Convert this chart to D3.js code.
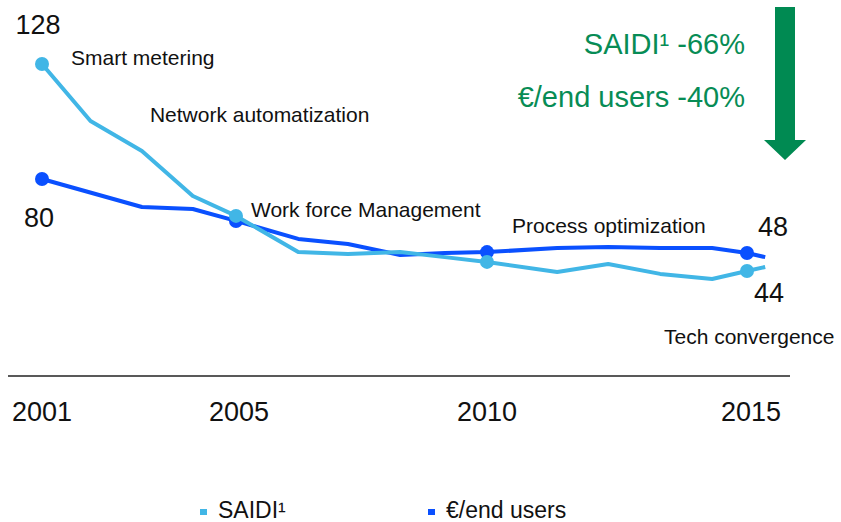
<!DOCTYPE html>
<html>
<head>
<meta charset="utf-8">
<script src="https://cdn.jsdelivr.net/npm/d3@7"></script>
<style>
  body { margin: 0; background: #fff; }
  text { font-family: "Liberation Sans", Arial, sans-serif; }
</style>
</head>
<body>
<script>
// values
var saidiTimes = [2001, 2002, 2003.06, 2004.11, 2005, 2006.24, 2007.23, 2008.27, 2009.16, 2010, 2011.35, 2012.33, 2013.33, 2014.33, 2015, 2015.35];
var saidiValues = [128, 104.2, 91.7, 72.9, 64.6, 49.5, 48.7, 49.5, 47.4, 45.4, 41.2, 44.5, 40.4, 38.3, 41.6, 43.3];

var euroTimes = [2001, 2003.06, 2004.11, 2005, 2006.24, 2007.23, 2008.27, 2009.16, 2010, 2011.35, 2012.33, 2013.33, 2014.33, 2015, 2015.35];
var euroValues = [80, 68.3, 67.5, 62.5, 55.0, 52.9, 48.3, 49.1, 49.5, 51.2, 51.6, 51.2, 51.2, 49.1, 47.4];

var markerYears = [2001, 2005, 2010, 2015];
var tickYears = [2001, 2005, 2010, 2015];

var valueLabels = [
  {text: "128", x: 2001, v: 128, dx: -4, dy: -30},
  {text: "80", x: 2001, v: 80, dx: -3, dy: 48},
  {text: "48", x: 2015, v: 49.1, dx: 26, dy: -17},
  {text: "44", x: 2015, v: 41.6, dx: 22, dy: 31}
];

var milestones = [
  {text: "Smart metering", x: 2001, v: 128, dx: 29, dy: 1},
  {text: "Network automatization", x: 2003.06, v: 104.2, dx: 8, dy: 1},
  {text: "Work force Management", x: 2005, v: 64.6, dx: 15, dy: 1},
  {text: "Process optimization", x: 2010, v: 49.5, dx: 25, dy: -19},
  {text: "Tech convergence", x: 2015, v: 41.6, dx: -83, dy: 73}
];

var saidiColor = "#41b6e6";
var euroColor = "#0a50ff";
var green = "#078c55";

var width = 841, height = 522;

var svg = d3.select("body").append("svg")
    .attr("width", width)
    .attr("height", height);

var x = d3.scaleLinear()
    .domain([2001, 2005, 2010, 2015])
    .range([42, 236, 487, 747]);

var y = d3.scaleLinear()
    .domain([0, 128])
    .range([370.7, 64]);

var line = d3.line()
    .x(function(d) { return x(d[0]); })
    .y(function(d) { return y(d[1]); });

// baseline
svg.append("line")
    .attr("x1", 8).attr("x2", 790)
    .attr("y1", 376).attr("y2", 376)
    .attr("stroke", "#222")
    .attr("stroke-width", 1.5);

// year labels
svg.selectAll(".tick")
    .data(tickYears)
  .enter().append("text")
    .attr("class", "tick")
    .attr("x", function(d, i) { return x(d) + [0, 3, 0, 4][i]; })
    .attr("y", 421)
    .attr("text-anchor", "middle")
    .attr("font-size", 27)
    .attr("fill", "#111")
    .text(function(d) { return d; });

function drawSeries(times, values, color) {
  var pts = d3.zip(times, values);
  svg.append("path")
      .datum(pts)
      .attr("fill", "none")
      .attr("stroke", color)
      .attr("stroke-width", 4)
      .attr("stroke-linejoin", "round")
      .attr("d", line);

  svg.selectAll(null)
      .data(pts.filter(function(d) { return markerYears.indexOf(d[0]) >= 0; }))
    .enter().append("circle")
      .attr("cx", function(d) { return x(d[0]); })
      .attr("cy", function(d) { return y(d[1]); })
      .attr("r", 7)
      .attr("fill", color);
}

drawSeries(euroTimes, euroValues, euroColor);
drawSeries(saidiTimes, saidiValues, saidiColor);

// value labels
svg.selectAll(".vlabel")
    .data(valueLabels)
  .enter().append("text")
    .attr("class", "vlabel")
    .attr("x", function(d) { return x(d.x) + d.dx; })
    .attr("y", function(d) { return y(d.v) + d.dy; })
    .attr("text-anchor", "middle")
    .attr("font-size", 27)
    .attr("fill", "#111")
    .text(function(d) { return d.text; });

// milestone annotations
svg.selectAll(".mlabel")
    .data(milestones)
  .enter().append("text")
    .attr("class", "mlabel")
    .attr("x", function(d) { return x(d.x) + d.dx; })
    .attr("y", function(d) { return y(d.v) + d.dy; })
    .attr("font-size", 21)
    .attr("fill", "#111")
    .text(function(d) { return d.text; });

// reduction callout
svg.append("text")
    .attr("x", 745).attr("y", 54)
    .attr("text-anchor", "end")
    .attr("font-size", 29)
    .attr("fill", green)
    .text("SAIDI\u00b9 -66%");

svg.append("text")
    .attr("x", 745).attr("y", 107)
    .attr("text-anchor", "end")
    .attr("font-size", 29)
    .attr("fill", green)
    .text("\u20ac/end users -40%");

svg.append("path")
    .attr("d", "M775,7 L795,7 L795,140 L806,140 L785,160 L764,140 L775,140 Z")
    .attr("fill", "#008a52");

// legend
var legend = [
  {label: "SAIDI\u00b9", color: saidiColor, x: 200},
  {label: "\u20ac/end users", color: euroColor, x: 428}
];

var lg = svg.selectAll(".legend")
    .data(legend)
  .enter().append("g")
    .attr("class", "legend")
    .attr("transform", function(d) { return "translate(" + d.x + ",509)"; });

lg.append("rect")
    .attr("width", 7).attr("height", 6)
    .attr("fill", function(d) { return d.color; });

lg.append("text")
    .attr("x", 18).attr("y", 9)
    .attr("font-size", 23)
    .attr("fill", "#111")
    .text(function(d) { return d.label; });
</script>
</body>
</html>
